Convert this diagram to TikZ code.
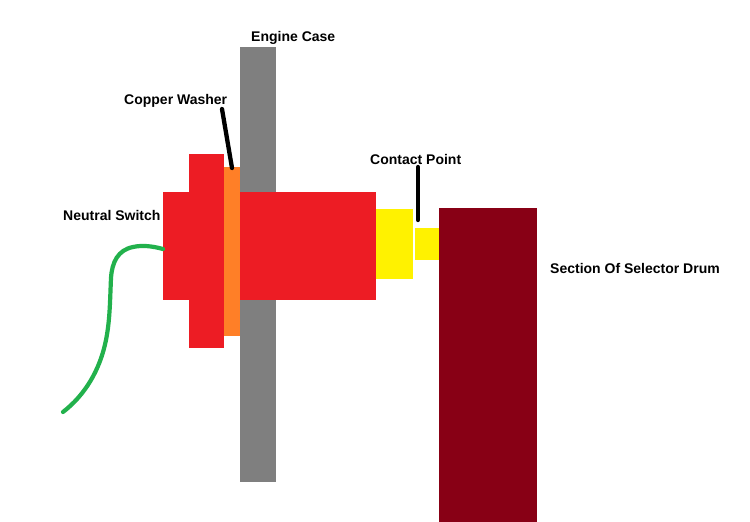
\documentclass[tikz,border=0pt]{standalone}
\usepackage{fontspec}
\setmainfont{Liberation Sans}
\definecolor{caseg}{RGB}{127,127,127}
\definecolor{swred}{RGB}{237,28,36}
\definecolor{washer}{RGB}{255,127,39}
\definecolor{conty}{RGB}{255,242,0}
\definecolor{drum}{RGB}{136,0,21}
\definecolor{wire}{RGB}{34,177,76}
\tikzset{
  x=1pt,y=-1pt,
  lbl/.style={font=\bfseries\fontsize{14}{16}\selectfont,text=black,inner sep=0pt,anchor=base west},
  leader/.style={draw=black,line width=4.3pt,line cap=round}
}
\begin{document}
\begin{tikzpicture}
\useasboundingbox (0,0) rectangle (750,522);
\fill[white] (0,0) rectangle (750,522);
% engine case
\fill[caseg] (240,47) rectangle (276,482);
% switch
\fill[swred] (163,192) rectangle (376,300);
\fill[swred] (189,154) rectangle (224,348);
\fill[washer] (224,167) rectangle (240,336);
% contact
\fill[conty] (376,209) rectangle (413,279);
\fill[conty] (415,228) rectangle (439,260);
% drum
\fill[drum] (439,208) rectangle (537,522);
% wire
\draw[wire,line width=4.2pt,line cap=round] (163,249) .. controls (152,246) and (142,245) .. (133,247)
  .. controls (118,250) and (112,262) .. (111,278)
  .. controls (110,300) and (110,320) .. (106,340)
  .. controls (100,370) and (85,395) .. (63,412);
% labels
\node[lbl] (engine) at (251,41) {Engine Case};
\node[lbl] (copper) at (124,104) {Copper Washer};
\node[lbl] (neutral) at (63,220) {Neutral Switch};
\node[lbl] (contact) at (370,164) {Contact Point};
\node[lbl] (section) at (550,273) {Section Of Selector Drum};
% leaders
\coordinate (washerTop) at (232,168);
\coordinate (contactTip) at (418,220);
\draw[leader] (222,109) -- (washerTop);
\draw[leader] (418,167) -- (contactTip);
\end{tikzpicture}
\end{document}
